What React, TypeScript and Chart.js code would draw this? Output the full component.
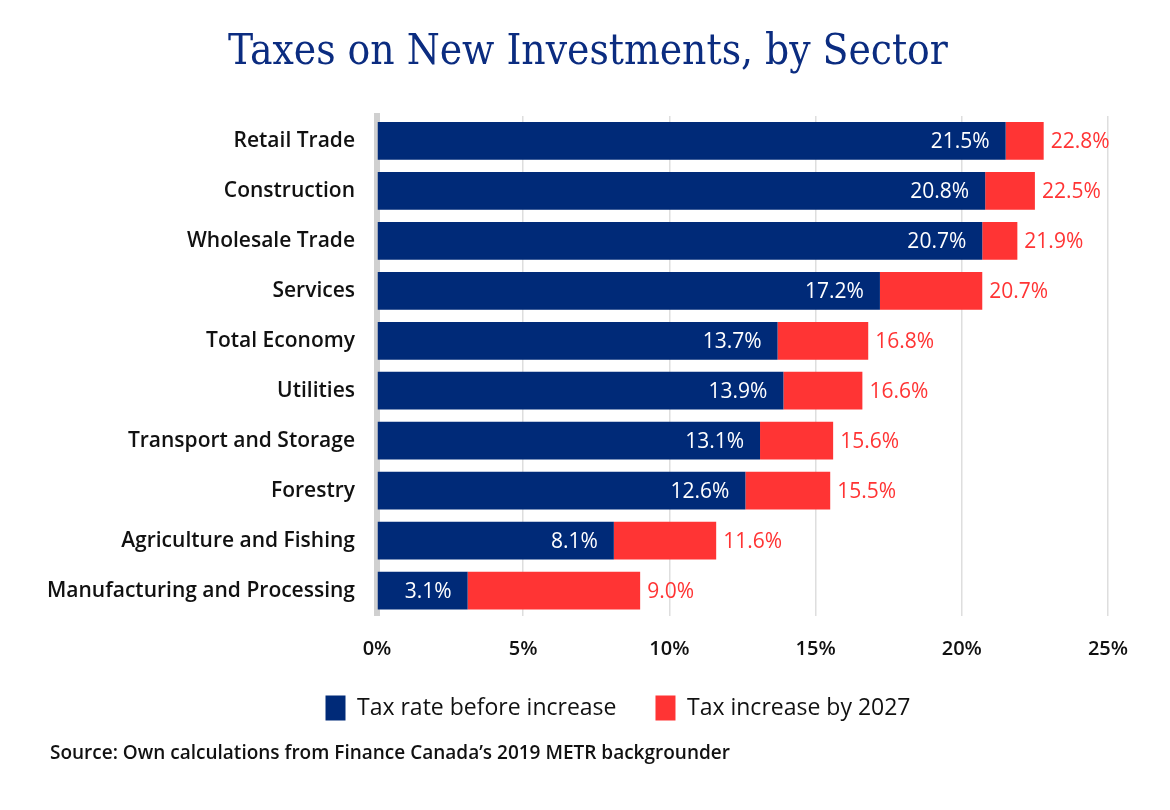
import React, { useEffect, useRef } from "react";
import { Chart, registerables } from "chart.js";

Chart.register(...registerables);

const TITLE = "Taxes on New Investments, by Sector";
const SOURCE = "Source: Own calculations from Finance Canada\u2019s 2019 METR backgrounder";

const sectors = [
  "Retail Trade",
  "Construction",
  "Wholesale Trade",
  "Services",
  "Total Economy",
  "Utilities",
  "Transport and Storage",
  "Forestry",
  "Agriculture and Fishing",
  "Manufacturing and Processing",
];

const rateBefore = [21.5, 20.8, 20.7, 17.2, 13.7, 13.9, 13.1, 12.6, 8.1, 3.1];
const rateAfter = [22.8, 22.5, 21.9, 20.7, 16.8, 16.6, 15.6, 15.5, 11.6, 9.0];

const xTicks = [0, 5, 10, 15, 20, 25];

const seriesNames = ["Tax rate before increase", "Tax increase by 2027"];

const BLUE = "#002a78";
const RED = "#ff3434";
const FONT = "'Open Sans', sans-serif";

const increase = rateAfter.map((v, i) => Math.round((v - rateBefore[i]) * 10) / 10);

const LEGEND_LEFT = 128;

export default function App() {
  const ref = useRef<HTMLCanvasElement | null>(null);

  useEffect(() => {
    if (!ref.current) return;

    const labelPlugin = {
      id: "valueLabels",
      afterLayout(chart: any) {
        if (chart.legend) {
          chart.legend.left = LEGEND_LEFT;
        }
      },
      afterDatasetsDraw(chart: any) {
        const ctx = chart.ctx;
        ctx.save();
        ctx.font = `500 21px ${FONT}`;
        ctx.textBaseline = "middle";
        const m0 = chart.getDatasetMeta(0);
        m0.data.forEach((bar: any, i: number) => {
          ctx.fillStyle = "#ffffff";
          ctx.textAlign = "right";
          ctx.fillText(rateBefore[i].toFixed(1) + "%", bar.x - 16, bar.y + 1);
        });
        const m1 = chart.getDatasetMeta(1);
        m1.data.forEach((bar: any, i: number) => {
          ctx.fillStyle = RED;
          ctx.textAlign = "left";
          ctx.fillText(rateAfter[i].toFixed(1) + "%", bar.x + 7, bar.y + 1);
        });
        ctx.restore();
      },
      afterDraw(chart: any) {
        const ctx = chart.ctx;
        ctx.save();
        ctx.fillStyle = "#0b2c80";
        ctx.font = `42px 'DejaVu Serif Condensed', 'DejaVu Serif', serif`;
        ctx.textAlign = "center";
        ctx.textBaseline = "alphabetic";
        ctx.fillText(TITLE, 588, 64);
        ctx.fillStyle = "#111111";
        ctx.font = `600 19px ${FONT}`;
        ctx.textAlign = "left";
        ctx.fillText(SOURCE, 50, 759);
        ctx.restore();
      },
    };

    const chart = new Chart(ref.current, {
      type: "bar",
      data: {
        labels: sectors,
        datasets: [
          {
            label: seriesNames[0],
            data: rateBefore,
            backgroundColor: BLUE,
            borderWidth: 0,
            categoryPercentage: 1,
            barPercentage: 0.755,
          },
          {
            label: seriesNames[1],
            data: increase,
            backgroundColor: RED,
            borderWidth: 0,
            categoryPercentage: 1,
            barPercentage: 0.755,
          },
        ],
      },
      options: {
        indexAxis: "y",
        responsive: false,
        animation: false,
        devicePixelRatio: 1,
        layout: { padding: { top: 116, left: 0, right: 62, bottom: 79.5 } },
        scales: {
          x: {
            stacked: true,
            min: 0,
            max: 25,
            afterBuildTicks(scale: any) {
              scale.ticks = xTicks.map((v) => ({ value: v }));
            },
            afterFit(scale: any) {
              scale.height = 41;
            },
            ticks: {
              callback: (v: any) => v + "%",
              color: "#111111",
              font: { family: FONT, size: 20, weight: "600" },
              padding: 22,
            },
            grid: { color: "#dedede", lineWidth: 1.5, drawTicks: false },
            border: { display: false },
          },
          y: {
            stacked: true,
            afterFit(scale: any) {
              scale.width = 377;
            },
            ticks: {
              color: "#111111",
              font: { family: FONT, size: 21, weight: "600" },
              padding: 22,
            },
            grid: { display: false, drawTicks: false },
            border: { display: true, color: "#d0d0d0", width: 6 },
          },
        },
        plugins: {
          legend: {
            position: "bottom",
            labels: {
              boxWidth: 20,
              boxHeight: 25,
              padding: 39,
              color: "#111111",
              font: { family: FONT, size: 23, weight: "500" },
            },
          },
          tooltip: { enabled: false },
          title: { display: false },
        },
      },
      plugins: [labelPlugin],
    } as any);

    return () => chart.destroy();
  }, []);

  return (
    <div style={{ position: "absolute", left: 0, top: 0, width: 1170, height: 810, background: "#ffffff" }}>
      <canvas ref={ref} width={1170} height={810} style={{ width: 1170, height: 810, display: "block" }} />
    </div>
  );
}
